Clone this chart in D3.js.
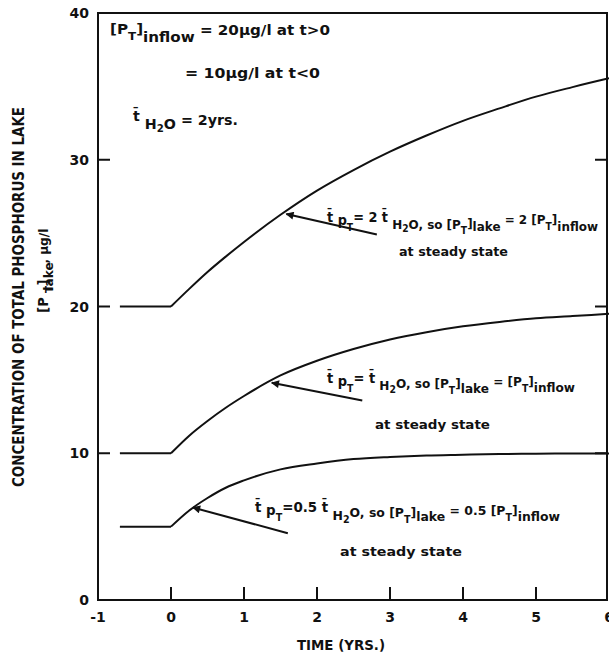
<!DOCTYPE html>
<html lang="en">
<head>
<meta charset="utf-8">
<script src="https://d3js.org/d3.v7.min.js"></script>
<style>
  body { margin: 0; background: #fff; }
  text { font-family: "DejaVu Sans", sans-serif; font-weight: bold; fill: #111; }
</style>
</head>
<body>
<div id="chart"></div>
<script>
// data
var flatTime = [-0.7, 0];
var flatLevels = [20, 10, 5];
var time = [0, 0.25, 0.5, 0.75, 1, 1.5, 2, 2.5, 3, 3.5, 4, 4.5, 5, 5.5, 6];
var upperLake = [20, 21.2, 22.35, 23.4, 24.4, 26.25, 27.9, 29.3, 30.55, 31.65, 32.65, 33.5, 34.3, 34.95, 35.55];
var middleLake = [10, 11.2, 12.2, 13.1, 13.9, 15.3, 16.3, 17.1, 17.75, 18.25, 18.65, 18.95, 19.2, 19.35, 19.5];
var lowerLake = [5, 6.1, 6.95, 7.65, 8.15, 8.9, 9.3, 9.6, 9.75, 9.85, 9.9, 9.95, 9.97, 9.98, 9.99];
var xTicks = [-1, 0, 1, 2, 3, 4, 5, 6];
var yTicks = [0, 10, 20, 30, 40];

var width = 609, height = 655;

var svg = d3.select('#chart').append('svg')
  .attr('width', width)
  .attr('height', height);

var x = d3.scaleLinear().domain([-1, 6]).range([98, 609]);
var y = d3.scaleLinear().domain([0, 40]).range([600, 13]);

// frame
svg.append('rect')
  .attr('x', x(-1)).attr('y', y(40))
  .attr('width', 607 - x(-1)).attr('height', y(0) - y(40))
  .attr('fill', 'none').attr('stroke', '#111').attr('stroke-width', 2);

// left ticks + labels
svg.selectAll('.ytick').data(yTicks.slice(1, 4)).enter().append('line')
  .attr('x1', x(-1)).attr('x2', x(-1) + 12)
  .attr('y1', function (d) { return y(d); }).attr('y2', function (d) { return y(d); })
  .attr('stroke', '#111').attr('stroke-width', 2);
svg.selectAll('.ytickr').data(yTicks.slice(1, 4)).enter().append('line')
  .attr('x1', 607).attr('x2', 595)
  .attr('y1', function (d) { return y(d); }).attr('y2', function (d) { return y(d); })
  .attr('stroke', '#111').attr('stroke-width', 2);
svg.selectAll('.ylab').data(yTicks).enter().append('text')
  .attr('x', 89).attr('y', function (d) { return y(d) + 5; })
  .attr('text-anchor', 'end').attr('font-size', 14)
  .text(function (d) { return d; });

// bottom ticks + labels
svg.selectAll('.xtick').data(xTicks.slice(1, 7)).enter().append('line')
  .attr('x1', function (d) { return x(d); }).attr('x2', function (d) { return x(d); })
  .attr('y1', y(0)).attr('y2', y(0) - 13)
  .attr('stroke', '#111').attr('stroke-width', 2);
svg.selectAll('.xlab').data(xTicks).enter().append('text')
  .attr('x', function (d) { return x(d); }).attr('y', 622)
  .attr('text-anchor', 'middle').attr('font-size', 14)
  .text(function (d) { return d; });

// axis titles
svg.append('text')
  .attr('x', 341).attr('y', 650).attr('text-anchor', 'middle')
  .attr('font-size', 14).attr('textLength', 88).attr('lengthAdjust', 'spacingAndGlyphs')
  .text('TIME (YRS.)');

svg.append('text')
  .attr('transform', 'translate(24,297) rotate(-90)')
  .attr('text-anchor', 'middle').attr('font-size', 15)
  .attr('textLength', 380).attr('lengthAdjust', 'spacingAndGlyphs')
  .text('CONCENTRATION OF TOTAL PHOSPHORUS IN LAKE');

function rich(g, px, py, parts, attrs) {
  var t = g.append('text').attr('x', px).attr('y', py);
  for (var k in attrs) t.attr(k, attrs[k]);
  parts.forEach(function (p) {
    t.append('tspan').attr('y', py + p[1]).attr('font-size', p[2]).text(p[0]);
  });
  return t;
}

var yl = svg.append('g').attr('transform', 'translate(48,305) rotate(-90)');
rich(yl, 0, 0, [['[P', 0, 14], ['T', 5, 11], [']', 0, 14], ['lake', 5, 13], [' , \u03bcg/l', 0, 13]],
  { 'text-anchor': 'middle', 'textLength': 96, 'lengthAdjust': 'spacingAndGlyphs' });

// curves
var line = d3.line().x(function (d) { return x(d[0]); }).y(function (d) { return y(d[1]); });
var curve = d3.line().x(function (d) { return x(d[0]); }).y(function (d) { return y(d[1]); })
  .curve(d3.curveMonotoneX);

flatLevels.forEach(function (lv) {
  svg.append('path')
    .attr('d', line(flatTime.map(function (t) { return [t, lv]; })))
    .attr('fill', 'none').attr('stroke', '#111').attr('stroke-width', 2);
});
[upperLake, middleLake, lowerLake].forEach(function (vals) {
  svg.append('path')
    .attr('d', curve(time.map(function (t, i) { return [t, vals[i]]; })))
    .attr('fill', 'none').attr('stroke', '#111').attr('stroke-width', 2);
});

// arrows
svg.append('defs').append('marker')
  .attr('id', 'head').attr('viewBox', '0 0 10 10')
  .attr('refX', 9).attr('refY', 5)
  .attr('markerWidth', 14).attr('markerHeight', 8).attr('markerUnits', 'userSpaceOnUse')
  .attr('orient', 'auto')
  .append('path').attr('d', 'M0,0 L10,5 L0,10 z').attr('fill', '#111');

var arrows = [
  { from: [2.82, 24.9], to: [1.58, 26.3] },
  { from: [2.62, 13.6], to: [1.38, 14.8] },
  { from: [1.60, 4.55], to: [0.30, 6.3] }
];
arrows.forEach(function (a) {
  svg.append('line')
    .attr('x1', x(a.from[0])).attr('y1', y(a.from[1]))
    .attr('x2', x(a.to[0])).attr('y2', y(a.to[1]))
    .attr('stroke', '#111').attr('stroke-width', 2)
    .attr('marker-end', 'url(#head)');
});

// notes top-left
rich(svg, 110, 34, [['[P', 0, 14], ['T', 6, 11], [']', 0, 14], ['inflow', 8, 14], [' = 20\u03bcg/l  at t>0', 1, 14]],
  { 'textLength': 220, 'lengthAdjust': 'spacingAndGlyphs' });
rich(svg, 185, 78, [['= 10\u03bcg/l  at t<0', 0, 14]], { 'textLength': 135, 'lengthAdjust': 'spacingAndGlyphs' });
rich(svg, 133, 121, [['t\u0304', 0, 14], [' H', 8, 14], ['2', 11, 10], ['O', 8, 14], [' = 2yrs.', 4, 14]],
  { 'textLength': 105, 'lengthAdjust': 'spacingAndGlyphs' });

// notes by curves
var sub = 'T';
rich(svg, 327, 222, [['t\u0304', 0, 14], [' p', 3, 14], [sub, 9, 10], ['= 2 t\u0304', 0, 14], [' H', 7, 13], ['2', 10, 10], ['O, so [P', 7, 13],
  [sub, 12, 10], [']', 6, 13], ['lake', 9, 13], [' = 2 [P', 2, 13], [sub, 8, 10], [']', 2, 13], ['inflow', 9, 13]],
  { 'textLength': 271, 'lengthAdjust': 'spacingAndGlyphs' });
rich(svg, 399, 256, [['at steady state', 0, 13]], { 'textLength': 109, 'lengthAdjust': 'spacingAndGlyphs' });

rich(svg, 327, 383, [['t\u0304', 0, 14], [' p', 3, 14], [sub, 9, 10], ['= t\u0304', 0, 14], [' H', 7, 13], ['2', 10, 10], ['O, so [P', 5, 13],
  [sub, 11, 10], [']', 5, 13], ['lake', 10, 13], ['  =  [P', 3, 13], [sub, 9, 10], [']', 3, 13], ['inflow', 9, 13]],
  { 'textLength': 248, 'lengthAdjust': 'spacingAndGlyphs' });
rich(svg, 375, 429, [['at steady state', 0, 13]], { 'textLength': 115, 'lengthAdjust': 'spacingAndGlyphs' });

rich(svg, 255, 512, [['t\u0304', 0, 14], [' p', 3, 14], [sub, 9, 10], ['=0.5 t\u0304', 0, 14], [' H', 8, 13], ['2', 11, 10], ['O, so [P', 5, 13],
  [sub, 11, 10], [']', 5, 13], ['lake', 9, 13], [' = 0.5 [P', 3, 13], [sub, 9, 10], [']', 3, 13], ['inflow', 9, 13]],
  { 'textLength': 305, 'lengthAdjust': 'spacingAndGlyphs' });
rich(svg, 340, 556, [['at steady state', 0, 13]], { 'textLength': 122, 'lengthAdjust': 'spacingAndGlyphs' });
</script>
</body>
</html>
